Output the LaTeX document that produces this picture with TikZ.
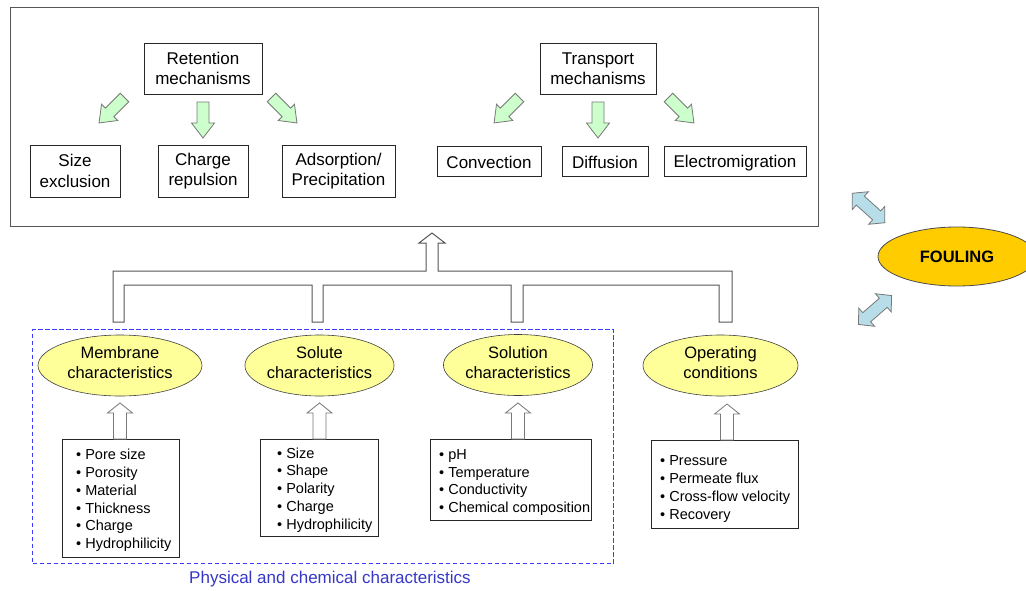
\documentclass[tikz,border=0pt]{standalone}
\usepackage{fontspec}
\setmainfont{Liberation Sans}
\usetikzlibrary{shapes.geometric}
\definecolor{framegray}{RGB}{85,85,85}
\definecolor{arrowgray}{RGB}{120,120,120}
\definecolor{arrowgreen}{RGB}{204,255,204}
\definecolor{ellyellow}{RGB}{255,255,153}
\definecolor{foulgold}{RGB}{255,204,0}
\definecolor{dblblue}{RGB}{183,222,232}
\definecolor{dashblue}{RGB}{60,60,255}
\definecolor{captblue}{RGB}{55,55,200}
\tikzset{
  headbox/.style={draw=black!85, line width=0.9pt, fill=white, inner sep=0pt, align=center,
    font=\fontsize{17}{20.5}\selectfont},
  listbox/.style={draw=black!85, line width=0.9pt, fill=white, inner sep=0pt, anchor=north west},
  listtext/.style={inner sep=0pt, anchor=west, align=left, font=\fontsize{14.5}{17.8}\selectfont},
  charell/.style={ellipse, draw=black!75, line width=0.6pt, fill=ellyellow, inner sep=0pt,
    minimum height=61, align=center, text depth=5pt, font=\fontsize{16.5}{20}\selectfont},
  greenarrow/.pic={\path[draw=arrowgray, fill=arrowgreen, line width=0.8pt]
    (0,-6) -- (21,-6) -- (21,-11.5) -- (36,0) -- (21,11.5) -- (21,6) -- (0,6) -- cycle;},
  whitearrow/.pic={\path[draw=arrowgray, fill=white, line width=0.8pt]
    (0,-6.5) -- (26,-6.5) -- (26,-12.5) -- (36,0) -- (26,12.5) -- (26,6.5) -- (0,6.5) -- cycle;},
  dblarrow/.pic={\path[draw=arrowgray, fill=dblblue, line width=0.8pt]
    (-22,0) -- (-11,-12) -- (-11,-6) -- (11,-6) -- (11,-12) -- (22,0) -- (11,12) -- (11,6)
    -- (-11,6) -- (-11,12) -- cycle;},
  pipe/.style={draw=framegray, line width=1pt, fill=white, line join=miter}
}
\begin{document}
\begin{tikzpicture}[x=1pt,y=-1pt]
\clip (0,0) rectangle (1026,590);
\fill[white] (0,0) rectangle (1026,590);

% main frame
\node[draw=framegray, line width=1.4pt, minimum width=808, minimum height=219, inner sep=0pt,
  anchor=north west] (frame) at (10,7) {};

% headings
\node[headbox, minimum width=118, minimum height=51] (ret) at (203,68.5) {Retention\\mechanisms};
\node[headbox, minimum width=116, minimum height=51] (tra) at (598,68.5) {Transport\\mechanisms};

\node[headbox, minimum width=90, minimum height=52] (size) at (75,171) {Size\\exclusion};
\node[headbox, minimum width=90, minimum height=52] (charge) at (203,171) {Charge\\repulsion};
\node[headbox, minimum width=113, minimum height=52] (ads) at (338.5,171) {Adsorption/\\Precipitation};
\node[headbox, minimum width=104, minimum height=30, text height=16pt] (conv) at (489,161) {Convection};
\node[headbox, minimum width=86, minimum height=30, text height=16pt] (diff) at (605,161) {Diffusion};
\node[headbox, minimum width=142, minimum height=30, text height=16pt] (elec) at (735,161) {Electromigration};

% green arrows
\pic[rotate=-135] at (124.5,97.5) {greenarrow};
\pic[rotate=-90] at (203,102) {greenarrow};
\pic[rotate=-45] at (271.5,97.5) {greenarrow};
\pic[rotate=-135] at (519.5,97.5) {greenarrow};
\pic[rotate=-90] at (598,102) {greenarrow};
\pic[rotate=-45] at (668.5,97.5) {greenarrow};

% pipe with up arrow
\draw[pipe] (113,322) -- (113,271) -- (426,271) -- (426,243) -- (419,243) -- (432,233)
  -- (445,243) -- (438,243) -- (438,271) -- (732,271) -- (732,322) -- (719,322)
  -- (719,285) -- (523,285) -- (523,322) -- (511,322) -- (511,285) -- (323,285)
  -- (323,322) -- (312,322) -- (312,285) -- (124,285) -- (124,322) -- cycle;

% dashed group
\node[draw=dashblue, dash pattern=on 4.5pt off 2.5pt, line width=1.1pt, minimum width=581,
  minimum height=234, inner sep=0pt, anchor=north west] (group) at (32,329) {};
\node[text=captblue, font=\fontsize{17}{20}\selectfont, inner sep=0pt] (capt) at (330,579)
  {Physical and chemical characteristics};

% ellipses
\node[charell, minimum width=164] (memb) at (120,365.5) {Membrane\\characteristics};
\node[charell, minimum width=147] (solu) at (319.5,365.5) {Solute\\characteristics};
\node[charell, minimum width=148] (solt) at (518,365) {Solution\\characteristics};
\node[charell, minimum width=155] (oper) at (720.5,365.5) {Operating\\conditions};

% lists
\node[listbox, minimum width=117, minimum height=118] (mlist) at (62,439) {};
\node[listtext, xshift=14pt, yshift=-2pt] (mtext) at (mlist.west)
  {• Pore size\\• Porosity\\• Material\\• Thickness\\• Charge\\• Hydrophilicity};
\node[listbox, minimum width=118, minimum height=97] (slist) at (260,439) {};
\node[listtext, xshift=17pt, yshift=-2pt] (stext) at (slist.west)
  {• Size\\• Shape\\• Polarity\\• Charge\\• Hydrophilicity};
\node[listbox, minimum width=161, minimum height=81] (tlist) at (430,439) {};
\node[listtext, xshift=9pt, yshift=-2.5pt] (ttext) at (tlist.west)
  {• pH\\• Temperature\\• Conductivity\\• Chemical composition};
\node[listbox, minimum width=147, minimum height=88] (olist) at (651,440) {};
\node[listtext, xshift=9pt, yshift=-4.5pt] (otext) at (olist.west)
  {• Pressure\\• Permeate flux\\• Cross-flow velocity\\• Recovery};

% white up arrows
\pic[rotate=90] at (mlist.north -| memb.south) {whitearrow};
\pic[rotate=90] at (slist.north -| solu.south) {whitearrow};
\pic[rotate=90] at (tlist.north -| solt.south) {whitearrow};
\pic[rotate=90] at (727,440) {whitearrow};

% fouling
\node[ellipse, draw=black!70, line width=0.8pt, fill=foulgold, minimum width=158, minimum height=59,
  inner sep=0pt, font=\fontsize{16.5}{20}\selectfont\bfseries] (foul) at (957,256.5) {FOULING};
\pic[rotate=-42] at (868.5,208) {dblarrow};
\pic[rotate=41] at (875,310) {dblarrow};
\end{tikzpicture}
\end{document}
